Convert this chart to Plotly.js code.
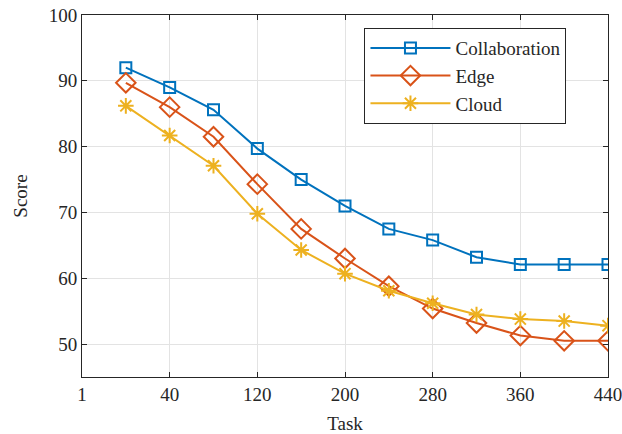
<!DOCTYPE html>
<html>
<head>
<meta charset="utf-8">
<script src="https://cdn.plot.ly/plotly-3.0.1.min.js"></script>
<style>html,body{margin:0;padding:0;background:#fff;}#chart{width:622px;height:434px;}</style>
</head>
<body>
<div id="chart"></div>
<script>
const tasks = [0, 40, 80, 120, 160, 200, 240, 280, 320, 360, 400, 440];
const collaboration = [92.0, 89.0, 85.6, 79.7, 75.0, 71.0, 67.5, 65.8, 63.2, 62.1, 62.1, 62.1];
const edge = [89.7, 86.0, 81.5, 74.3, 67.5, 63.0, 58.8, 55.4, 53.2, 51.3, 50.5, 50.5];
const cloud = [86.2, 81.7, 77.1, 69.8, 64.3, 60.7, 58.1, 56.2, 54.5, 53.8, 53.5, 52.8];
const xTickVals = [-40, 40, 120, 200, 280, 360, 440];
const xTickText = ['1', '40', '120', '200', '280', '360', '440'];
const yTickVals = [50, 60, 70, 80, 90, 100];

const font = {family: 'Times New Roman, Liberation Serif, DejaVu Serif, serif', size: 19, color: '#262626'};

const traces = [
  {x: tasks, y: collaboration, name: 'Collaboration', mode: 'lines+markers',
   line: {color: '#0072BD', width: 2},
   marker: {symbol: 'square-open', size: 11, color: '#0072BD', line: {width: 2, color: '#0072BD'}}},
  {x: tasks, y: edge, name: 'Edge', mode: 'lines+markers',
   line: {color: '#D95319', width: 2},
   marker: {symbol: 'diamond-open', size: 15, color: '#D95319', line: {width: 2, color: '#D95319'}}},
  {x: tasks, y: cloud, name: 'Cloud', mode: 'lines+markers',
   line: {color: '#EDB120', width: 2},
   marker: {symbol: 'asterisk-open', size: 13, color: '#EDB120', line: {width: 2, color: '#EDB120'}}}
];

const axisCommon = {
  showline: true, linecolor: '#262626', linewidth: 1, mirror: 'ticks',
  ticks: 'inside', ticklen: 5, tickcolor: '#262626', tickwidth: 1,
  showgrid: true, gridcolor: '#e3e3e3', gridwidth: 1, zeroline: false,
  tickfont: font, ticklabeloverflow: 'allow'
};

const layout = {
  width: 622, height: 434,
  margin: {l: 82, r: 14, t: 15, b: 57},
  paper_bgcolor: '#ffffff', plot_bgcolor: '#ffffff',
  font: font,
  showlegend: true,
  xaxis: Object.assign({}, axisCommon, {
    range: [-40, 440.001], tickmode: 'array', tickvals: xTickVals, ticktext: xTickText,
    title: {text: 'Task', font: font, standoff: 12}
  }),
  yaxis: Object.assign({}, axisCommon, {
    range: [45, 100.001], tickmode: 'array', tickvals: yTickVals,
    title: {text: 'Score', font: font, standoff: 16}
  }),
  legend: {
    x: 0.537, y: 0.964, xanchor: 'left', yanchor: 'top',
    bgcolor: '#ffffff', bordercolor: '#262626', borderwidth: 1,
    font: font, itemwidth: 80, tracegroupgap: 0,
    entrywidth: 132, entrywidthmode: 'pixels'
  }
};

Plotly.newPlot('chart', traces, layout, {staticPlot: true, displayModeBar: false});
</script>
</body>
</html>
